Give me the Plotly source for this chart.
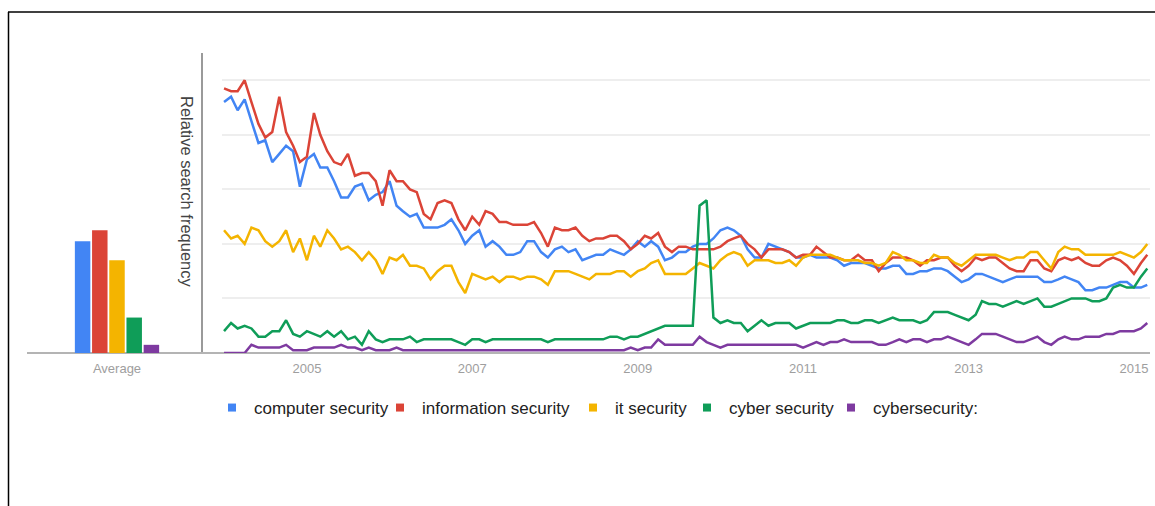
import plotly.graph_objects as go
import pandas as pd

# ---------------- data ----------------
months = pd.date_range("2004-01-01", periods=135, freq="MS")

computer_security = [
    92, 94, 89, 93, 85, 77, 78, 70, 73, 76, 74, 61, 71, 73, 68, 68, 63, 57, 57, 61, 62, 56, 58, 59, 63, 54, 52,
    50, 51, 46, 46, 46, 47, 49, 45, 40, 43, 45, 39, 41, 39, 36, 36, 37, 41, 41, 37, 35, 38, 39, 37, 38, 34, 35,
    36, 36, 38, 37, 36, 38, 41, 39, 41, 39, 34, 35, 37, 37, 39, 40, 40, 42, 45, 46, 45, 43, 38, 35, 35, 40,
    39, 38, 37, 35, 35, 36, 35, 35, 35, 34, 32, 33, 33, 33, 32, 31, 31, 32, 32, 29, 29, 30, 30, 31, 31, 30, 28,
    26, 27, 29, 29, 28, 27, 26, 27, 28, 28, 28, 28, 26, 26, 27, 28, 27, 26, 23, 23, 24, 24, 25, 26, 26, 24, 24, 25,
]
information_security = [
    97, 96, 96, 100, 92, 84, 79, 81, 94, 81, 76, 70, 72, 88, 80, 74, 70, 69, 73, 65, 66, 66, 63, 54, 67, 63, 63,
    60, 59, 51, 49, 55, 56, 55, 49, 45, 50, 47, 52, 51, 48, 48, 47, 47, 47, 48, 44, 39, 46, 45, 45, 46, 43, 41,
    42, 42, 43, 43, 41, 38, 40, 43, 42, 44, 39, 37, 39, 39, 38, 38, 38, 38, 39, 41, 42, 43, 40, 38, 35, 38,
    38, 38, 37, 35, 36, 36, 39, 37, 35, 35, 34, 34, 36, 34, 34, 30, 33, 35, 35, 35, 34, 32, 34, 34, 35, 35, 32,
    30, 32, 35, 34, 35, 35, 33, 31, 30, 30, 34, 34, 31, 30, 34, 35, 34, 35, 33, 32, 32, 34, 35, 34, 32, 29, 33, 36,
]
it_security = [
    45, 42, 43, 40, 46, 45, 41, 39, 41, 45, 37, 42, 34, 43, 39, 45, 42, 38, 39, 37, 34, 37, 34, 29, 35, 34, 36,
    32, 32, 31, 27, 30, 32, 32, 26, 22, 29, 28, 27, 28, 26, 28, 28, 27, 28, 28, 27, 25, 30, 30, 30, 29, 28, 27,
    29, 29, 29, 30, 30, 28, 30, 31, 33, 34, 29, 29, 29, 29, 31, 33, 32, 31, 34, 36, 37, 36, 32, 34, 34, 34,
    33, 33, 34, 32, 35, 36, 36, 36, 36, 35, 34, 34, 34, 33, 33, 32, 33, 37, 36, 34, 34, 33, 33, 36, 35, 35, 33,
    32, 34, 36, 36, 36, 36, 35, 34, 35, 35, 37, 37, 34, 31, 37, 39, 38, 38, 36, 36, 36, 36, 36, 37, 36, 35, 37, 40,
]
cyber_security = [
    8, 11, 9, 10, 9, 6, 6, 8, 8, 12, 7, 6, 8, 7, 6, 8, 6, 8, 5, 6, 3, 8, 5, 4, 5, 5, 5,
    6, 4, 5, 5, 5, 5, 5, 4, 3, 5, 5, 4, 5, 5, 5, 5, 5, 5, 5, 5, 4, 5, 5, 5, 5, 5, 5,
    5, 5, 6, 6, 5, 6, 6, 7, 8, 9, 10, 10, 10, 10, 10, 54, 56, 13, 11, 12, 11, 11, 8, 10, 12, 10,
    11, 11, 11, 9, 10, 11, 11, 11, 11, 12, 12, 11, 11, 12, 12, 11, 12, 13, 12, 12, 12, 11, 12, 15, 15, 15, 14,
    13, 12, 14, 19, 18, 18, 17, 18, 19, 18, 19, 20, 17, 17, 18, 19, 20, 20, 20, 19, 19, 20, 24, 25, 24, 24, 28, 31,
]
cybersecurity = [
    0, 0, 0, 0, 3, 2, 2, 2, 2, 3, 1, 1, 1, 2, 2, 2, 2, 3, 2, 2, 1, 2, 1, 1, 1, 2, 1,
    1, 1, 1, 1, 1, 1, 1, 1, 1, 1, 1, 1, 1, 1, 1, 1, 1, 1, 1, 1, 1, 1, 1, 1, 1, 1, 1,
    1, 1, 1, 1, 1, 2, 1, 2, 2, 5, 3, 3, 3, 3, 3, 6, 4, 3, 2, 3, 3, 3, 3, 3, 3, 3,
    3, 3, 3, 3, 2, 3, 4, 3, 4, 4, 5, 4, 4, 4, 4, 3, 3, 4, 5, 4, 5, 5, 4, 5, 5, 6, 5,
    4, 3, 5, 7, 7, 7, 6, 5, 4, 4, 5, 6, 4, 3, 5, 6, 5, 5, 6, 6, 6, 7, 7, 8, 8, 8, 9, 11,
]

series_names = ["computer security", "information security", "it security",
                "cyber security", "cybersecurity:"]
avg_label = ["Average"]
avg_values = [41, 45, 34, 13, 3]
year_ticks = ["2005-01-01", "2007-01-01", "2009-01-01", "2011-01-01", "2013-01-01", "2015-01-01"]
year_labels = ["2005", "2007", "2009", "2011", "2013", "2015"]
grid_values = [20, 40, 60, 80, 100]

# ---------------- styling ----------------
series = [computer_security, information_security, it_security, cyber_security, cybersecurity]
colors = ["#4285f4", "#db4437", "#f4b400", "#0f9d58", "#7e3aa0"]
FONT = "Arial, 'Liberation Sans', sans-serif"
W, H = 1155, 506


def px(x):
    return x / W


def py(y):
    return (H - y) / H


fig = go.Figure()

for name, val, col in zip(series_names, avg_values, colors):
    fig.add_trace(go.Bar(x=avg_label, y=[val], marker=dict(color=col, line=dict(width=0)),
                         name=name, xaxis="x", yaxis="y", showlegend=False, hoverinfo="skip"))

for name, vals, col in zip(series_names, series, colors):
    fig.add_trace(go.Scatter(x=months, y=vals, mode="lines", name=name,
                             line=dict(color=col, width=2.5),
                             xaxis="x2", yaxis="y2", showlegend=False))

legend_px = [232, 400, 593, 707, 851]
legend_layouts = {}
for k, (name, col) in enumerate(zip(series_names, colors)):
    key = "legend" if k == 0 else f"legend{k + 1}"
    fig.add_trace(go.Scatter(x=[None], y=[None], mode="markers", name=name,
                             marker=dict(symbol="square", size=8, color=col),
                             xaxis="x2", yaxis="y2", legend=key, showlegend=True))
    legend_layouts[key] = dict(
        x=px(legend_px[k] - 22), xanchor="left", y=py(408), yanchor="middle",
        orientation="h", bgcolor="rgba(0,0,0,0)", borderwidth=0, itemwidth=34,
        font=dict(family=FONT, size=17, color="#222222"),
    )

shapes = [
    # outer frame (left and top)
    dict(type="line", xref="paper", yref="paper", x0=px(8.5), x1=px(8.5), y0=py(12), y1=py(506),
         line=dict(color="#000000", width=1.5)),
    dict(type="line", xref="paper", yref="paper", x0=px(8), x1=px(1155), y0=py(12), y1=py(12),
         line=dict(color="#000000", width=1.5)),
    # divider axis
    dict(type="line", xref="paper", yref="paper", x0=px(202), x1=px(202), y0=py(53), y1=py(353),
         line=dict(color="#9a9a9a", width=2), layer="below"),
    # baseline
    dict(type="line", xref="paper", yref="paper", x0=px(27), x1=px(1150), y0=py(353), y1=py(353),
         line=dict(color="#b4b4b4", width=2), layer="below"),
]

fig.update_layout(
    width=W, height=H, autosize=False,
    margin=dict(l=0, r=0, t=0, b=0),
    paper_bgcolor="white", plot_bgcolor="white",
    font=dict(family=FONT, color="#9e9e9e"),
    barmode="group", bargap=0.5, bargroupgap=0.1,
    xaxis=dict(domain=[px(31), px(203)], type="category", range=[-0.5, 0.5], anchor="y",
               showgrid=False, showline=False, zeroline=False,
               ticks="outside", ticklen=3, tickcolor="rgba(0,0,0,0)",
               tickfont=dict(family=FONT, size=13, color="#9e9e9e")),
    yaxis=dict(domain=[py(353), py(53)], range=[0, 110], anchor="x", visible=False),
    xaxis2=dict(domain=[px(222), px(1150)], type="date", range=["2003-12-23", "2015-03-13"],
                anchor="y2", showgrid=False, showline=False, zeroline=False,
                tickvals=year_ticks, ticktext=year_labels,
                ticks="outside", ticklen=3, tickcolor="rgba(0,0,0,0)",
                tickfont=dict(family=FONT, size=13, color="#9e9e9e")),
    yaxis2=dict(domain=[py(353), py(53)], range=[0, 110], anchor="x2",
                tickvals=grid_values, showticklabels=False, ticks="",
                showgrid=True, gridcolor="#eeeeee", gridwidth=1.5,
                zeroline=False, showline=False),
    shapes=shapes,
    annotations=[dict(text="Relative search frequency", textangle=90, xref="paper", yref="paper",
                      x=px(187), y=py(192), xanchor="center", yanchor="middle", showarrow=False,
                      font=dict(family=FONT, size=16.5, color="#444444"))],
    **legend_layouts,
)

fig.write_html(
    "out.html",
    config={"displayModeBar": False},
    post_script="document.body.style.margin='0';document.body.style.padding='0';"
                "document.body.style.overflow='hidden';",
)
